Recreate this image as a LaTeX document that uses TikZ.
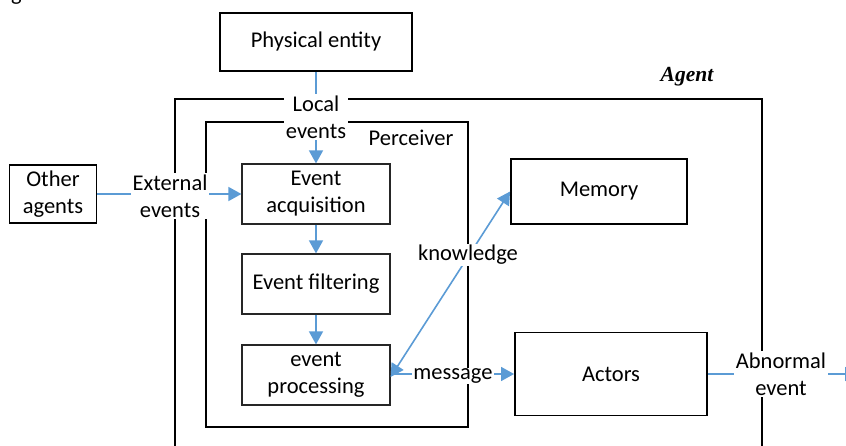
\documentclass[tikz,border=0pt]{standalone}
\usepackage{fontspec}
\setmainfont{Carlito}
\newfontfamily\agentfont{Liberation Serif}
\usetikzlibrary{arrows.meta}
\definecolor{lblue}{RGB}{91,155,213}
\begin{document}
\begin{tikzpicture}[x=1pt,y=-1pt,
  font=\fontsize{22.5}{27}\selectfont,
  bigbox/.style={draw=black, line width=1.9pt, fill=white, inner sep=0pt, align=center},
  evbox/.style={draw=black!85, line width=1.2pt, fill=white, inner sep=0pt, align=center},
  frame/.style={draw=black, line width=2.1pt},
  arr/.style={draw=lblue, line width=1.6pt, -{Triangle[length=13pt,width=14pt]}},
  arrtwo/.style={draw=lblue, line width=1.6pt, {Triangle[length=13pt,width=14pt]}-{Triangle[length=13pt,width=14pt]}},
  lbl/.style={fill=white, inner sep=2pt, align=center}]
\useasboundingbox (0,0) rectangle (846,446);
\clip (0,0) rectangle (846,446);
% partial caption fragment
\node[anchor=base west, inner sep=0pt] (frag) at (11,0.8) {g};
% frames
\draw[frame] (175,99) rectangle (762,470);
\draw[frame] (206,122) rectangle (468,427);
\node[font=\agentfont\bfseries\itshape\fontsize{21.5}{25}\selectfont] (agentlbl) at (687,77) {Agent};
\node (perclbl) at (411,138) {Perceiver};
% boxes
\node[bigbox, minimum width=192pt, minimum height=58pt] (phys) at (316,42) {Physical entity};
\node[bigbox, minimum width=87pt, minimum height=58pt] (other) at (53,194) {Other\\agents};
\node[evbox, minimum width=148pt, minimum height=60pt] (evacq) at (316,194) {Event\\acquisition};
\node[evbox, minimum width=148pt, minimum height=60pt] (evfilt) at (316,284) {Event filtering};
\node[evbox, minimum width=148pt, minimum height=60pt] (evproc) at (316,375) {event\\processing};
\node[bigbox, minimum width=176pt, minimum height=65pt] (memory) at (599,191.5) {Memory};
\node[bigbox, minimum width=192pt, minimum height=83pt] (actors) at (611,374) {Actors};
\coordinate (outend) at (858,374);
% connectors
\draw[arr] (phys) -- (evacq);
\draw[arr] (other) -- (evacq);
\draw[arr] (evacq) -- (evfilt);
\draw[arr] (evfilt) -- (evproc);
\draw[arrtwo] ([yshift=-2pt]evproc.east) -- (memory.west);
\draw[arr] (evproc.east |- actors.west) -- (actors.west);
\draw[arr] (actors) -- (outend);
% labels
\node[lbl] (locallbl) at (316,117) {Local\\events};
\node[lbl] (extlbl) at (170,196) {External\\events};
\node[lbl, inner sep=1pt] (msglbl) at (453,376) {message};
\node[lbl, inner sep=1pt] (knowlbl) at (468,255) {knowledge};
\node[lbl] (abnlbl) at (781,374) {Abnormal\\event};
\end{tikzpicture}
\end{document}
